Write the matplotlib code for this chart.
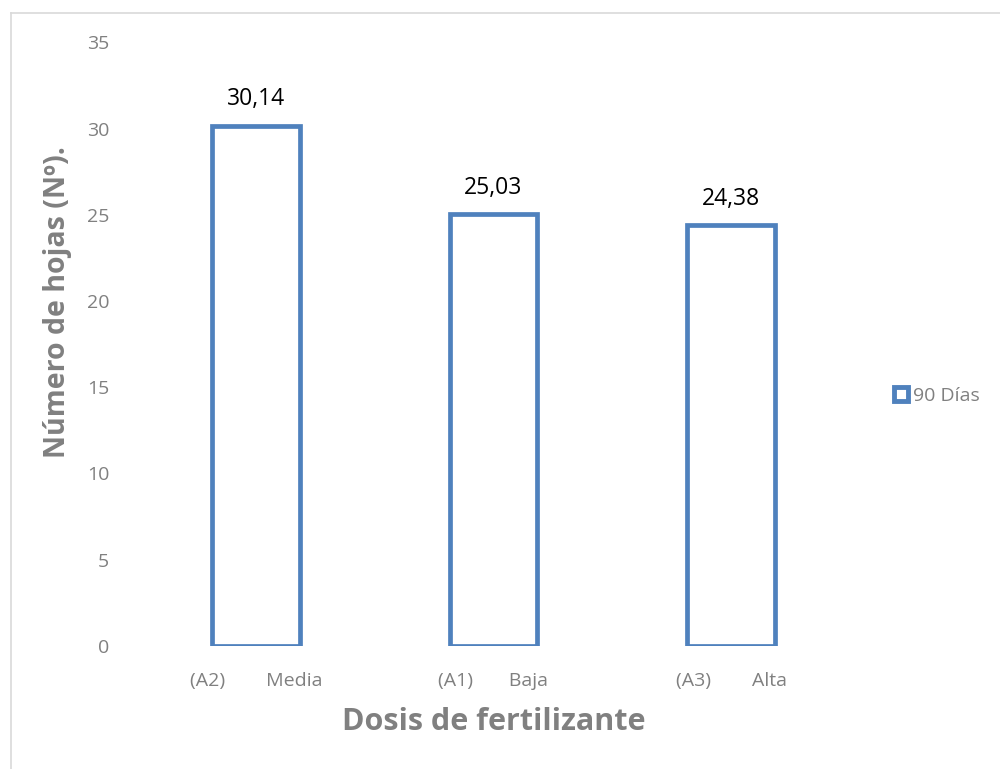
import matplotlib.pyplot as plt
from matplotlib.patches import Patch
from matplotlib.lines import Line2D

plt.rcParams['font.family'] = ['Open Sans', 'DejaVu Sans']

categories = ['(A2)        Media', '(A1)       Baja', '(A3)        Alta']
values = [30.14, 25.03, 24.38]
value_labels = ['30,14', '25,03', '24,38']
series_name = '90 Días'

blue = '#4F81BD'
gray = '#808080'

fig = plt.figure(figsize=(10, 7.69), dpi=100)
ax = fig.add_axes([0.137, 0.16, 0.713, 0.785])

x = range(len(categories))
ax.bar(x, values, width=0.37, facecolor='white', edgecolor=blue, linewidth=3.4)
for i, v in enumerate(values):
    ax.text(i, v + 0.85, value_labels[i], ha='center', va='bottom', fontsize=16.5, color='black')

ax.set_xlim(-0.5, 2.5)
ax.set_ylim(0, 35)
ax.set_yticks(range(0, 36, 5))
ax.set_xticks(list(x))
ax.set_xticklabels(categories)
ax.tick_params(axis='both', length=0, labelsize=14, labelcolor=gray)
ax.tick_params(axis='y', pad=20)
ax.tick_params(axis='x', pad=19)
for s in ax.spines.values():
    s.set_visible(False)

ax.set_ylabel('Número de hojas (Nº).', fontsize=20.5, fontweight='bold', color=gray, va='center')
ax.yaxis.set_label_coords(-0.112, 0.57)
ax.set_xlabel('Dosis de fertilizante', fontsize=22, fontweight='bold', color=gray, va='center')
ax.xaxis.set_label_coords(0.5, -0.126)

handle = Patch(facecolor='white', edgecolor=blue, linewidth=3.5)
fig.legend([handle], [series_name], loc='center left', bbox_to_anchor=(0.876, 0.485),
           frameon=False, fontsize=14, labelcolor=gray, handlelength=0.75, handleheight=0.75,
           handletextpad=0.25)

# light frame around the chart area
fig.add_artist(Line2D([0.011, 1.0], [0.983, 0.983], color='#D9D9D9', linewidth=1.2, transform=fig.transFigure))
fig.add_artist(Line2D([0.011, 0.011], [0.0, 0.983], color='#D9D9D9', linewidth=1.2, transform=fig.transFigure))

plt.savefig('out.png', dpi=100)
